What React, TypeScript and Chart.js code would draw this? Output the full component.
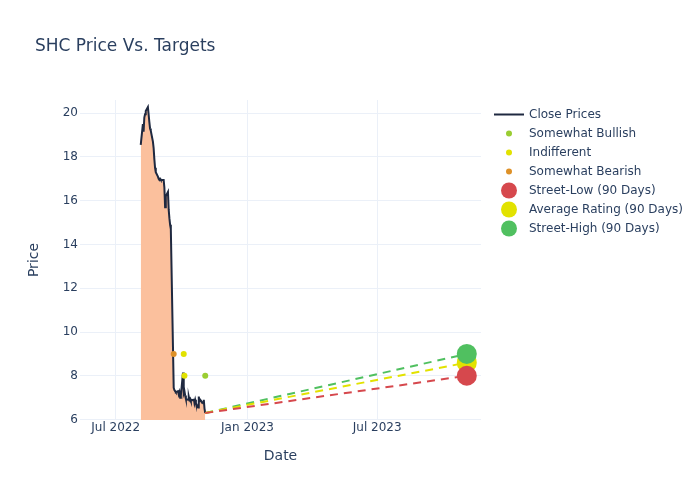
import React, { useEffect, useRef } from "react";
import { Chart, registerables } from "chart.js";

Chart.register(...registerables);

const chartTitle = "SHC Price Vs. Targets";
const xAxisTitle = "Date";
const yAxisTitle = "Price";

const priceDates = [
  "2022-08-05", "2022-08-08", "2022-08-09", "2022-08-10", "2022-08-11", "2022-08-12",
  "2022-08-15", "2022-08-16", "2022-08-17", "2022-08-18", "2022-08-19",
  "2022-08-22", "2022-08-23", "2022-08-24", "2022-08-25", "2022-08-26",
  "2022-08-29", "2022-08-30", "2022-08-31", "2022-09-01", "2022-09-02",
  "2022-09-06", "2022-09-07", "2022-09-08", "2022-09-09",
  "2022-09-12", "2022-09-13", "2022-09-14", "2022-09-15", "2022-09-16",
  "2022-09-19", "2022-09-20", "2022-09-21", "2022-09-22", "2022-09-23",
  "2022-09-26", "2022-09-27", "2022-09-28", "2022-09-29", "2022-09-30",
  "2022-10-03", "2022-10-04", "2022-10-05", "2022-10-06", "2022-10-07",
  "2022-10-10", "2022-10-11", "2022-10-12", "2022-10-13", "2022-10-14",
  "2022-10-17", "2022-10-18", "2022-10-19", "2022-10-20", "2022-10-21",
  "2022-10-24", "2022-10-25", "2022-10-26", "2022-10-27", "2022-10-28",
  "2022-10-31", "2022-11-01", "2022-11-02", "2022-11-03",
];
const closePrices = [
  18.55, 19.5, 19.15, 19.8, 19.95, 20.1,
  20.28, 19.95, 19.6, 19.3, 19.2,
  18.7, 18.4, 17.9, 17.5, 17.3,
  17.1, 17.0, 16.95, 17.0, 16.95,
  16.95, 16.6, 15.7, 16.2,
  16.4, 15.6, 15.2, 14.9, 14.7,
  9.3, 7.45, 7.35, 7.3, 7.25,
  7.3, 7.15, 7.25, 7.0, 7.1,
  8.15, 7.2, 7.3, 7.1, 6.95,
  6.9, 7.05, 6.9, 6.95, 6.85,
  6.9, 6.95, 6.75, 6.9, 6.75,
  6.55, 7.05, 6.85, 6.9, 6.85,
  6.75, 6.9, 6.5, 6.3,
];

const bullishDates = ["2022-11-03"];
const bullishValues = [8];
const indifferentDates = ["2022-10-04", "2022-10-05"];
const indifferentValues = [9, 8];
const bearishDates = ["2022-09-20"];
const bearishValues = [9];

const targetDate = "2023-11-03";
const streetLow = 8;
const averageRating = 8.6;
const streetHigh = 9;

const yTickValues = [6, 8, 10, 12, 14, 16, 18, 20];
const xTickDates = ["2022-07-01", "2023-01-01", "2023-07-01"];
const xTickLabels = ["Jul 2022", "Jan 2023", "Jul 2023"];
const xRange = ["2022-05-12T06:00:00Z", "2023-11-22T20:00:00Z"];
const yRange = [5.98, 20.6];

const legendLabels = [
  "Close Prices",
  "Somewhat Bullish",
  "Indifferent",
  "Somewhat Bearish",
  "Street-Low (90 Days)",
  "Average Rating (90 Days)",
  "Street-High (90 Days)",
];

const TEXT = "#2a3f5f";
const GRID = "#ebf0f8";
const FONT = "'DejaVu Sans', sans-serif";
const C_CLOSE = "#1f2940";
const C_FILL = "rgb(251,192,157)";
const C_BULL = "rgb(154,205,50)";
const C_IND = "rgb(226,226,0)";
const C_BEAR = "rgb(222,145,40)";
const C_LOW = "rgb(214,72,77)";
const C_AVG = "rgb(226,226,0)";
const C_HIGH = "rgb(80,192,96)";

const t = (s: string) => Date.parse(s);

const overlayPlugin = {
  id: "overlay",
  afterDraw(chart: any) {
    const ctx = chart.ctx;
    const area = chart.chartArea;
    ctx.save();
    ctx.fillStyle = TEXT;
    // title
    ctx.font = `17px ${FONT}`;
    ctx.textAlign = "left";
    ctx.textBaseline = "alphabetic";
    ctx.fillText(chartTitle, 35, 50.5);
    // axis titles
    ctx.font = `14px ${FONT}`;
    ctx.textAlign = "center";
    ctx.textBaseline = "middle";
    ctx.fillText(xAxisTitle, (area.left + area.right) / 2, 456);
    ctx.save();
    ctx.translate(34, (area.top + area.bottom) / 2);
    ctx.rotate(-Math.PI / 2);
    ctx.fillText(yAxisTitle, 0, 0);
    ctx.restore();
    // legend
    const colors = [C_CLOSE, C_BULL, C_IND, C_BEAR, C_LOW, C_AVG, C_HIGH];
    const y0 = 114.5;
    const step = 19;
    const sx = 509;
    legendLabels.forEach((label, i) => {
      const y = y0 + i * step;
      if (i === 0) {
        ctx.strokeStyle = colors[i];
        ctx.lineWidth = 2;
        ctx.beginPath();
        ctx.moveTo(494, y);
        ctx.lineTo(524, y);
        ctx.stroke();
      } else {
        ctx.fillStyle = colors[i];
        ctx.beginPath();
        ctx.arc(sx, y, i <= 3 ? 3 : 8, 0, Math.PI * 2);
        ctx.fill();
      }
      ctx.fillStyle = TEXT;
      ctx.font = `12px ${FONT}`;
      ctx.textAlign = "left";
      ctx.textBaseline = "middle";
      ctx.fillText(label, 529, y);
    });
    ctx.restore();
  },
};

export default function App() {
  const ref = useRef<HTMLCanvasElement | null>(null);
  useEffect(() => {
    document.body.style.margin = "0";
    if (!ref.current) return;
    const lastDate = t(priceDates[priceDates.length - 1]);
    const lastClose = closePrices[closePrices.length - 1];
    const pts = (d: string[], v: number[]) => d.map((s, i) => ({ x: t(s), y: v[i] }));
    const dashLine = (target: number, color: string) => ({
      data: [
        { x: lastDate, y: lastClose },
        { x: t(targetDate), y: target },
      ],
      showLine: true,
      borderColor: color,
      borderWidth: 2,
      borderDash: [8, 6],
      pointRadius: 0,
      fill: false,
      order: 5,
    });
    const marker = (target: number, color: string, order: number) => ({
      data: [{ x: t(targetDate), y: target }],
      pointRadius: 10,
      pointBackgroundColor: color,
      pointBorderWidth: 0,
      borderColor: color,
      backgroundColor: color,
      order,
    });
    const dot = (d: string[], v: number[], color: string) => ({
      data: pts(d, v),
      pointRadius: 3,
      pointBackgroundColor: color,
      pointBorderWidth: 0,
      backgroundColor: color,
      borderColor: color,
      order: 4,
    });
    const chart = new Chart(ref.current, {
      type: "scatter",
      data: {
        datasets: [
          {
            data: pts(priceDates, closePrices),
            showLine: true,
            borderColor: C_CLOSE,
            borderWidth: 2,
            backgroundColor: C_FILL,
            fill: "start",
            pointRadius: 0,
            tension: 0,
            order: 10,
          },
          dot(bullishDates, bullishValues, C_BULL),
          dot(indifferentDates, indifferentValues, C_IND),
          dot(bearishDates, bearishValues, C_BEAR),
          dashLine(streetLow, C_LOW),
          dashLine(averageRating, C_AVG),
          dashLine(streetHigh, C_HIGH),
          marker(averageRating, C_AVG, 3),
          marker(streetLow, C_LOW, 2),
          marker(streetHigh, C_HIGH, 1),
        ] as any,
      },
      options: {
        animation: false,
        responsive: false,
        devicePixelRatio: 1,
        layout: { padding: { left: 0, right: 219, top: 100, bottom: 0 } },
        plugins: {
          legend: { display: false },
          tooltip: { enabled: false },
          title: { display: false },
        },
        scales: {
          x: {
            type: "linear",
            min: t(xRange[0]),
            max: t(xRange[1]),
            afterFit: (s: any) => {
              s.height = 80;
            },
            afterBuildTicks: (s: any) => {
              s.ticks = xTickDates.map((d) => ({ value: t(d) }));
            },
            ticks: {
              padding: 1,
              color: TEXT,
              font: { family: FONT, size: 12 },
              maxRotation: 0,
              autoSkip: false,
              callback: (v: any) => {
                const i = xTickDates.findIndex((d) => t(d) === v);
                return i >= 0 ? xTickLabels[i] : "";
              },
            },
            grid: { color: GRID, lineWidth: 1, drawTicks: false },
            border: { display: false },
          },
          y: {
            type: "linear",
            min: yRange[0],
            max: yRange[1],
            afterFit: (s: any) => {
              s.width = 80;
            },
            afterBuildTicks: (s: any) => {
              s.ticks = yTickValues.map((v) => ({ value: v }));
            },
            ticks: {
              padding: 2,
              color: TEXT,
              font: { family: FONT, size: 12 },
              callback: (v: any) => String(v),
            },
            grid: { color: GRID, lineWidth: 1, drawTicks: false },
            border: { display: false },
          },
        },
      } as any,
      plugins: [overlayPlugin],
    });
    return () => chart.destroy();
  }, []);
  return (
    <div style={{ position: "absolute", left: 0, top: 0, width: 700, height: 500, background: "#fff" }}>
      <canvas ref={ref} width={700} height={500} style={{ width: 700, height: 500 }} />
    </div>
  );
}
